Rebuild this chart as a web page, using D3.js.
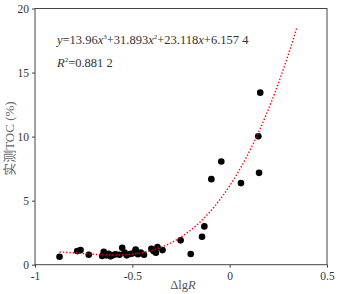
<!DOCTYPE html>
<html>
<head>
<meta charset="utf-8">
<script src="https://cdn.jsdelivr.net/npm/d3@7"></script>
<style>
  body { margin: 0; background: #fff; }
  svg { display: block; }
  .axis text { font-family: "Liberation Serif", "DejaVu Serif", serif; font-size: 11.5px; fill: #333; }
  .axis path, .axis line { stroke: #444; }
</style>
</head>
<body>
<svg width="341" height="294"></svg>
<script>
var width = 341;
var height = 294;
var margin = { left: 35, top: 8.5, right: 14, bottom: 29.3 };

// measured points (ΔlgR, TOC %)
var dlgR = [-0.874, -0.783, -0.766, -0.724, -0.655, -0.647, -0.633, -0.621, -0.612, -0.598,
  -0.586, -0.566, -0.552, -0.540, -0.529, -0.512, -0.500, -0.484, -0.483, -0.471,
  -0.457, -0.440, -0.402, -0.391, -0.379, -0.371, -0.345, -0.252, -0.200, -0.142,
  -0.130, -0.094, -0.043, 0.058, 0.147, 0.151, 0.157];
var toc = [0.62, 1.06, 1.14, 0.78, 0.68, 1.01, 0.73, 0.86, 0.65, 0.75,
  0.81, 0.78, 1.32, 0.94, 0.73, 0.83, 0.88, 1.06, 1.19, 0.81,
  0.94, 0.78, 1.25, 1.06, 0.94, 1.38, 1.14, 1.90, 0.83, 2.18,
  2.99, 6.68, 8.06, 6.37, 10.03, 7.17, 13.43];

// trend line y = a x^3 + b x^2 + c x + d, as printed on the chart
var coef = [13.96, 31.893, 23.118, 6.1574];
var fitRange = [-0.874, 0.35];

var xTicks = [-1, -0.5, 0, 0.5];
var yTicks = [0, 5, 10, 15, 20];

var xScale = d3.scaleLinear().domain([-1, 0.5]).range([margin.left, width - margin.right]);
var yScale = d3.scaleLinear().domain([0, 20]).range([height - margin.bottom, margin.top]);

var svg = d3.select("svg");

// frame
svg.append("rect")
  .attr("x", margin.left)
  .attr("y", margin.top)
  .attr("width", width - margin.left - margin.right)
  .attr("height", height - margin.top - margin.bottom)
  .attr("fill", "none")
  .attr("stroke", "#444");

var xAxis = d3.axisBottom(xScale).tickValues(xTicks).tickSize(3).tickSizeOuter(0)
  .tickFormat(function(d) { return d3.format("")(d).replace("−", "-"); });
var yAxis = d3.axisLeft(yScale).tickValues(yTicks).tickSize(3).tickSizeOuter(0);

svg.append("g")
  .attr("class", "axis")
  .attr("transform", "translate(0," + (height - margin.bottom) + ")")
  .call(xAxis)
  .call(function(g) { g.select(".domain").remove(); })
  .selectAll("text").attr("dy", "0.85em");

svg.append("g")
  .attr("class", "axis")
  .attr("transform", "translate(" + margin.left + ",0)")
  .call(yAxis)
  .call(function(g) { g.select(".domain").remove(); });

// fitted curve (dotted red)
var xs = d3.range(fitRange[0], fitRange[1] + 0.001, 0.01);
var line = d3.line()
  .x(function(d) { return xScale(d); })
  .y(function(d) { return yScale(((coef[0] * d + coef[1]) * d + coef[2]) * d + coef[3]); });

// points
svg.append("g").selectAll("circle").data(d3.range(dlgR.length))
  .enter()
  .append("circle")
  .attr("cx", function(i) { return xScale(dlgR[i]); })
  .attr("cy", function(i) { return yScale(toc[i]); })
  .attr("r", 3.3)
  .attr("fill", "#000");

svg.append("path")
  .datum(xs)
  .attr("d", line)
  .attr("fill", "none")
  .attr("stroke", "#f00")
  .attr("stroke-width", 1.4)
  .attr("stroke-dasharray", "1.4,1.9");

// equation text
var serif = "'Liberation Serif', 'DejaVu Serif', serif";
var eq = svg.append("text")
  .attr("x", 57).attr("y", 44)
  .attr("font-family", serif).attr("font-size", 12.5).attr("fill", "#333");
eq.append("tspan").attr("font-style", "italic").text("y");
eq.append("tspan").text("=13.96");
eq.append("tspan").attr("font-style", "italic").text("x");
eq.append("tspan").attr("font-size", 7).attr("dy", -5).text("3");
eq.append("tspan").attr("dy", 5).text("+31.893");
eq.append("tspan").attr("font-style", "italic").text("x");
eq.append("tspan").attr("font-size", 7).attr("dy", -5).text("2");
eq.append("tspan").attr("dy", 5).text("+23.118");
eq.append("tspan").attr("font-style", "italic").text("x");
eq.append("tspan").text("+6.157 4");

var r2 = svg.append("text")
  .attr("x", 57).attr("y", 67)
  .attr("font-family", serif).attr("font-size", 12.5).attr("fill", "#333");
r2.append("tspan").attr("font-style", "italic").text("R");
r2.append("tspan").attr("font-size", 7).attr("dy", -5).text("2");
r2.append("tspan").attr("dy", 5).text("=0.881 2");

// axis titles
var xt = svg.append("text")
  .attr("x", (margin.left + width - margin.right) / 2 + 2)
  .attr("y", 289)
  .attr("text-anchor", "middle")
  .attr("font-family", serif).attr("font-size", 12.5).attr("fill", "#555");
xt.append("tspan").text("Δlg");
xt.append("tspan").attr("font-style", "italic").text("R");

svg.append("text")
  .attr("transform", "translate(14," + ((margin.top + height - margin.bottom) / 2 + 2) + ") rotate(-90)")
  .attr("text-anchor", "middle")
  .attr("font-family", "'Liberation Serif', 'Noto Sans CJK SC', serif")
  .attr("font-size", 13).attr("fill", "#666")
  .text("实测TOC (%)");
</script>
</body>
</html>
